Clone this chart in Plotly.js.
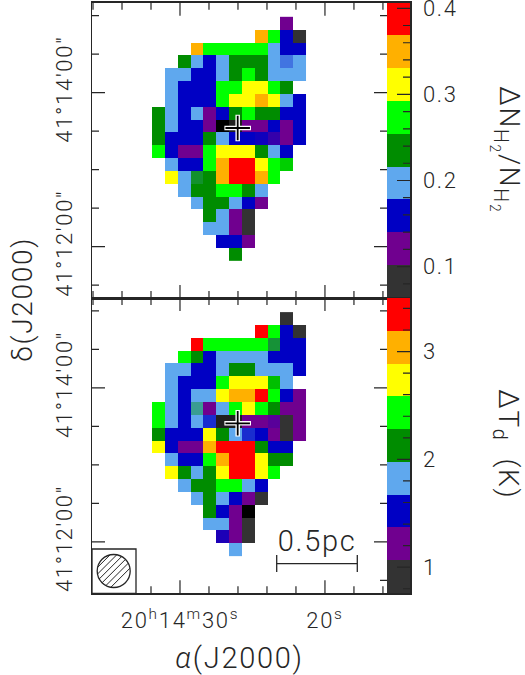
<!DOCTYPE html>
<html>
<head>
<meta charset="utf-8">
<script src="https://cdn.plot.ly/plotly-3.0.1.min.js"></script>
<style>body{margin:0;background:#fff}
#chart text{letter-spacing:1.7px}</style>
</head>
<body>
<div id="chart" style="width:525px;height:675px"></div>
<script>
var na = null;

// map grid: RA seconds past 20h14m, Dec arcsec past 41d12m
var raSeconds = [31.49, 30.61, 29.72, 28.84, 27.95, 27.07, 26.18, 25.30, 24.41, 23.53, 22.64, 21.76];
var decOffsets = [174, 164, 154, 144, 134, 124, 114, 104, 94, 84, 74, 64, 54, 44, 34, 24, 14, 4, -6];

// dN(H2)/N(H2)
var columnError = [
  [na,na,na,na,na,na,na,na,na,na,.12,na],
  [na,na,na,na,na,na,na,na,.35,.27,.16,.08],
  [na,na,na,.35,.27,.27,.27,.27,.27,.20,.16,.16],
  [na,na,.235,.20,.16,.20,.235,.235,.235,.20,.18,.20],
  [na,.20,.20,.16,.16,.20,.235,.27,.235,.20,.20,.20],
  [na,.20,.16,.16,.16,.27,.27,.31,.31,.27,.235,na],
  [na,.20,.16,.16,.16,.27,.31,.31,.35,.31,.20,.16],
  [.235,.20,.16,.20,.12,.16,.235,.27,.235,.235,.16,.16],
  [.235,.20,.16,.16,.12,.05,.065,.12,.12,.16,.12,.16],
  [.235,.16,.16,.16,.235,.20,.16,.16,.144,.14,.12,.16],
  [.27,.16,.12,.12,.27,.31,.31,.31,.235,.20,.16,na],
  [na,.20,.16,.16,.27,.35,.39,.39,.31,.27,.255,na],
  [na,.31,.20,.2195,.235,.35,.39,.39,.35,.27,na,na],
  [na,na,.20,.235,.235,.27,.27,.235,.20,na,na,na],
  [na,na,na,.20,.235,.235,.20,.16,.12,na,na,na],
  [na,na,na,na,.235,.20,.12,.08,na,na,na,na],
  [na,na,na,na,.20,.20,.12,.08,na,na,na,na],
  [na,na,na,na,na,.16,.16,.12,na,na,na,na],
  [na,na,na,na,na,na,.235,na,na,na,na,na]
];

// dT_d in K
var tempError = [
  [na,na,na,na,na,na,na,na,na,na,.91,na],
  [na,na,na,na,na,na,na,na,3.35,2.43,1.52,.91],
  [na,na,na,3.35,2.43,2.43,2.43,2.43,2.43,2.0,1.52,1.52],
  [na,na,2.43,2.13,1.52,1.82,1.82,1.82,1.82,1.52,1.52,1.52],
  [na,1.82,1.82,1.52,1.52,1.82,2.13,2.13,1.82,1.82,1.82,1.52],
  [na,1.82,1.52,1.52,1.52,2.43,2.74,2.74,2.74,2.275,1.82,na],
  [na,1.82,1.52,1.82,1.82,2.74,3.04,3.04,3.35,2.43,1.52,1.21],
  [2.43,1.82,1.52,1.965,1.21,1.82,2.43,2.74,2.43,2.13,1.21,1.21],
  [2.43,1.82,1.52,1.82,1.65,.77,.77,1.21,1.21,1.34,.91,1.21],
  [2.13,1.52,1.52,1.52,2.74,2.13,1.82,1.65,1.52,1.21,.91,1.21],
  [2.74,1.52,1.21,1.21,3.04,3.35,3.35,3.35,2.13,1.52,1.52,na],
  [na,1.82,1.52,1.52,2.43,3.04,3.35,3.35,2.74,2.13,2.13,na],
  [na,2.74,2.13,1.82,2.13,2.74,3.35,3.35,2.74,2.43,na,na],
  [na,na,1.82,2.13,2.13,2.43,2.43,1.82,1.52,na,na,na],
  [na,na,na,1.82,2.13,1.82,1.52,1.21,.91,na,na,na],
  [na,na,na,na,2.13,1.52,1.21,.6,na,na,na,na],
  [na,na,na,na,1.82,1.82,1.21,.91,na,na,na,na],
  [na,na,na,na,na,1.39,1.21,.91,na,na,na,na],
  [na,na,na,na,na,na,1.82,na,na,na,na,na]
];

var sourceRa = [26.02];
var sourceDec = [92.4];

// colour bars
var topBandEdges = [.0635, .1016, .1397, .1778, .2159, .254, .2921, .3302, .3683, .4065];
var topBandValues = [.08, .12, .16, .20, .235, .27, .31, .35, .39];
var botBandEdges = [.758, 1.062, 1.367, 1.671, 1.975, 2.28, 2.584, 2.888, 3.193, 3.497];
var botBandValues = [.91, 1.21, 1.52, 1.82, 2.13, 2.43, 2.74, 3.04, 3.35];
var bandColors = ['#000000', '#333333', '#70008f', '#0000c4', '#5fa8ee', '#008c00', '#00ff00', '#ffff00', '#ffb000', '#ff0000'];

// tick positions
var raMajor = [30, 20];
var raMinor = [36, 34, 32, 28, 26, 24, 22, 18, 16];
var decMajor = [0, 120];
var decMinor = [-30, 30, 60, 90, 150, 180];
var topBarMajor = [.1, .2, .3, .4];
var topBarMinor = [.08, .12, .14, .16, .18, .22, .24, .26, .28, .32, .34, .36, .38];
var botBarMajor = [1, 2, 3];
var botBarMinor = [.8, 1.2, 1.4, 1.6, 1.8, 2.2, 2.4, 2.6, 2.8, 3.2, 3.4];

var raRange = [36.07, 15.72];
var decRange = [-40, 190];
var topBarRange = [.0635, .4065];
var botBarRange = [.758, 3.497];

function drawChart() {
  var figW = 525, figH = 675;
  var inkColor = '#262626';
  var fontFamily = 'Roboto, sans-serif';
  var pxX = function(v) { return v / figW; };
  var pxY = function(v) { return 1 - v / figH; };

  // flat bands with short ramps, so in-between values give the blended cells
  var scale = [];
  bandColors.forEach(function(c, i) {
    scale.push([i === 0 ? 0 : (i + .15) / 10, c]);
    scale.push([i === 9 ? 1 : (i + .85) / 10, c]);
  });

  function mapTrace(z, xa, ya, zmin, zmax) {
    return {type: 'heatmap', x: raSeconds, y: decOffsets, z: z, xaxis: xa, yaxis: ya,
      colorscale: scale, zmin: zmin, zmax: zmax, showscale: false, hoverinfo: 'skip'};
  }
  function barTrace(edges, values, xa, ya, zmin, zmax) {
    return {type: 'heatmap', x: [0, 1], y: edges, z: values.map(function(v) { return [v]; }),
      xaxis: xa, yaxis: ya, colorscale: scale, zmin: zmin, zmax: zmax, showscale: false, hoverinfo: 'skip'};
  }
  function crossTraces(xa, ya) {
    return [[19, 4.5, '#ffffff'], [17.5, 1.8, '#000000']].map(function(s) {
      return {type: 'scatter', mode: 'markers', x: sourceRa, y: sourceDec, xaxis: xa, yaxis: ya,
        marker: {symbol: 'cross-thin', size: s[0], line: {width: s[1], color: s[2]}}, hoverinfo: 'skip'};
    });
  }

  var traces = [
    mapTrace(columnError, 'x', 'y', .0254, .4065),
    mapTrace(tempError, 'x2', 'y2', .454, 3.497),
    barTrace(topBandEdges, topBandValues, 'x3', 'y3', .0254, .4065),
    barTrace(botBandEdges, botBandValues, 'x4', 'y4', .454, 3.497)
  ].concat(crossTraces('x', 'y'), crossTraces('x2', 'y2'));

  var tickFont = {family: fontFamily, weight: 300, size: 22, color: inkColor};
  var titleFont = {family: fontFamily, weight: 300, size: 28, color: inkColor};

  function raAxis(anchor, labels) {
    return {
      domain: [pxX(92), pxX(387)], range: raRange, anchor: anchor,
      tickmode: 'array', tickvals: raMajor, ticktext: labels ? ['20<sup>h</sup>14<sup>m</sup>30<sup>s</sup>', '20<sup>s</sup>'] : ['', ''],
      ticks: '', showline: true, linecolor: inkColor, linewidth: 1.5, mirror: true, showgrid: false, zeroline: false,
      ticklabelstandoff: 7, tickfont: tickFont
    };
  }
  function decAxis(domainY, anchor) {
    return {
      domain: domainY, range: decRange, anchor: anchor,
      tickmode: 'array', tickvals: decMajor, ticktext: ['41°12\'00"', '41°14\'00"'], tickangle: -90,
      ticks: '', showline: true, linecolor: inkColor, linewidth: 1.5, mirror: true, showgrid: false, zeroline: false,
      ticklabelstandoff: 10, ticklabeloverflow: 'allow', tickfont: tickFont
    };
  }
  function barXAxis(anchor) {
    return {domain: [pxX(387), pxX(410)], range: [0, 1], anchor: anchor, showticklabels: false, ticks: '',
      showline: true, linecolor: inkColor, linewidth: 1.5, mirror: true, showgrid: false, zeroline: false};
  }
  function barYAxis(domainY, anchor, range, vals, texts) {
    return {
      domain: domainY, range: range, anchor: anchor, side: 'right',
      tickmode: 'array', tickvals: vals, ticktext: texts, ticks: '',
      showline: true, linecolor: inkColor, linewidth: 1.5, showgrid: false, zeroline: false,
      ticklabelstandoff: 7, ticklabeloverflow: 'allow', tickfont: tickFont
    };
  }

  var topDomain = [pxY(298), pxY(2.7)];
  var botDomain = [pxY(593.3), pxY(298)];

  // tick marks as thin shapes on the page, placed from the axis ranges
  var tickPath = '';
  function raPx(v) { return 92 + (raRange[0] - v) / (raRange[0] - raRange[1]) * 295; }
  function rangePx(v, range, topPx, bottomPx) { return bottomPx + (v - range[0]) / (range[1] - range[0]) * (topPx - bottomPx); }
  function seg(x0, y0, x1, y1) { tickPath += 'M' + pxX(x0) + ',' + pxY(y0) + 'L' + pxX(x1) + ',' + pxY(y1); }
  function vTicks(vals, yPx, len) {
    vals.forEach(function(v) { seg(raPx(v), yPx, raPx(v), yPx + len); });
  }
  function hTicks(vals, range, topPx, bottomPx, xPx, len) {
    vals.forEach(function(v) {
      var y = rangePx(v, range, topPx, bottomPx);
      seg(xPx, y, xPx + len, y);
    });
  }
  [[2.7, 298], [298, 593.3]].forEach(function(p) {
    vTicks(raMajor, p[0], 13); vTicks(raMinor, p[0], 7);
    vTicks(raMajor, p[1], -13); vTicks(raMinor, p[1], -7);
    hTicks(decMajor, decRange, p[0], p[1], 92, 13); hTicks(decMinor, decRange, p[0], p[1], 92, 7);
    hTicks(decMajor, decRange, p[0], p[1], 387, -13); hTicks(decMinor, decRange, p[0], p[1], 387, -7);
  });
  hTicks(topBarMajor, topBarRange, 2.7, 298, 410, -13); hTicks(topBarMinor, topBarRange, 2.7, 298, 410, -7);
  hTicks(botBarMajor, botBarRange, 298, 593.3, 410, -13); hTicks(botBarMinor, botBarRange, 298, 593.3, 410, -7);

  // hatched beam disc
  var beamX = 113.7, beamY = 571, beamR = 16.5;
  var hatchPath = '';
  for (var k = -14; k <= 14; k += 4.7) {
    var half = Math.sqrt(beamR * beamR - k * k) * Math.SQRT1_2;
    var cx = beamX + k * Math.SQRT1_2, cy = beamY + k * Math.SQRT1_2;
    hatchPath += 'M' + pxX(cx - half) + ',' + pxY(cy + half) + 'L' + pxX(cx + half) + ',' + pxY(cy - half);
  }

  function paperShape(type, x0, y0, x1, y1, extra) {
    return Object.assign({type: type, xref: 'paper', yref: 'paper', x0: pxX(x0), x1: pxX(x1), y0: pxY(y0), y1: pxY(y1),
      line: {color: inkColor, width: 1.3}}, extra || {});
  }
  function note(text, x, y, angle, size) {
    return {text: text, xref: 'paper', yref: 'paper', x: pxX(x), y: pxY(y), xanchor: 'center', yanchor: 'middle',
      textangle: angle, showarrow: false, font: Object.assign({}, titleFont, {size: size})};
  }

  var figLayout = {
    width: figW, height: figH, margin: {l: 0, r: 0, t: 0, b: 0}, showlegend: false,
    paper_bgcolor: '#ffffff', plot_bgcolor: '#ffffff',
    xaxis: raAxis('y', false),
    yaxis: decAxis(topDomain, 'x'),
    xaxis2: raAxis('y2', true),
    yaxis2: decAxis(botDomain, 'x2'),
    xaxis3: barXAxis('y3'),
    yaxis3: barYAxis(topDomain, 'x3', topBarRange, topBarMajor, ['0.1', '0.2', '0.3', '0.4']),
    xaxis4: barXAxis('y4'),
    yaxis4: barYAxis(botDomain, 'x4', botBarRange, botBarMajor, ['1', '2', '3']),
    // the beam box comes after the ticks so it hides the one behind it
    shapes: [
      {type: 'path', xref: 'paper', yref: 'paper', path: tickPath, line: {color: inkColor, width: 1.2}},
      paperShape('rect', 92, 549, 136, 593.3, {fillcolor: '#ffffff'}),
      paperShape('circle', beamX - beamR, beamY - beamR, beamX + beamR, beamY + beamR),
      {type: 'path', xref: 'paper', yref: 'paper', path: hatchPath, line: {color: inkColor, width: 1}},
      paperShape('line', 276.7, 563.7, 357.3, 563.7),
      paperShape('line', 276.7, 555, 276.7, 572),
      paperShape('line', 357.3, 555, 357.3, 572)
    ],
    annotations: [
      note('<i>α</i>(J2000)', 239, 658, 0, 29),
      note('δ(J2000)', 22, 300, -90, 28),
      note('0.5pc', 317, 541, 0, 29),
      note('ΔN<sub>H<sub>2</sub></sub>/N<sub>H<sub>2</sub></sub>', 507, 150, 90, 28),
      note('ΔT<sub>d</sub>  (K)', 507, 444, 90, 28)
    ]
  };

  Plotly.newPlot('chart', traces, figLayout, {staticPlot: true, displayModeBar: false});
}

drawChart();
</script>
</body>
</html>
